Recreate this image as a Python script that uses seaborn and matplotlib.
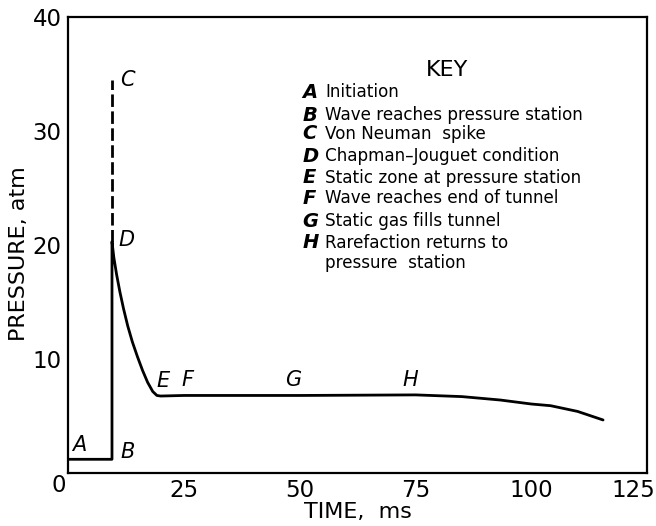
import matplotlib
matplotlib.use("Agg")
import matplotlib.pyplot as plt
import matplotlib.transforms as mtransforms
import pandas as pd
import seaborn as sns

# Pressure history at the pressure station (ms, atm)
time_ms = [0.0, 9.4, 9.4, 9.8, 10.4, 11.1, 11.9, 12.8, 13.8, 14.9, 16.0, 17.1,
           18.2, 19.1, 19.9, 25.0, 50.0, 75.0, 85.0, 93.3, 100.0, 104.2, 110.0, 115.5]
pressure_atm = [1.2, 1.2, 20.3, 18.9, 17.4, 15.9, 14.4, 12.9, 11.5, 10.2, 9.0, 7.95,
                7.15, 6.8, 6.75, 6.8, 6.8, 6.85, 6.7, 6.4, 6.05, 5.9, 5.4, 4.65]

# Von Neumann spike above the Chapman-Jouguet point
spike_time = [9.4, 9.4]
spike_pressure = [20.3, 34.5]

# Event markers along the trace
point_labels = ["A", "B", "C", "D", "E", "F", "G", "H"]
point_x = [0.75, 11.3, 11.1, 10.7, 19.1, 24.5, 46.8, 72.2]
point_y = [1.6, 0.95, 34.5, 20.4, 7.2, 7.3, 7.3, 7.3]

key_letters = ["A", "B", "C", "D", "E", "F", "G", "H", ""]
key_texts = ["Initiation",
             "Wave reaches pressure station",
             "Von Neuman  spike",
             "Chapman\u2013Jouguet condition",
             "Static zone at pressure station",
             "Wave reaches end of tunnel",
             "Static gas fills tunnel",
             "Rarefaction returns to",
             "pressure  station"]

x_ticks = [0, 25, 50, 75, 100, 125]
y_ticks = [0, 10, 20, 30, 40]

sns.set_theme(style="white")
plt.rcParams["font.family"] = ["DejaVu Sans"]

fig = plt.figure(figsize=(6.56, 5.26), dpi=100)
ax = fig.add_axes([0.1044, 0.1008, 0.9863 - 0.1044, 0.9677 - 0.1008])

trace = pd.DataFrame({"time": time_ms, "pressure": pressure_atm})
spike = pd.DataFrame({"time": spike_time, "pressure": spike_pressure})

sns.lineplot(data=trace, x="time", y="pressure", sort=False, estimator=None,
             color="black", linewidth=2.0, ax=ax)
sns.lineplot(data=spike, x="time", y="pressure", sort=False, estimator=None,
             color="black", linewidth=2.0, ax=ax)
ax.lines[-1].set_dashes((4.5, 1.6))
ax.lines[0].set_solid_joinstyle("round")

ax.set_xlim(0, 125)
ax.set_ylim(0, 40)

for side in ["left", "right", "top", "bottom"]:
    ax.spines[side].set_visible(True)
    ax.spines[side].set_color("black")
    ax.spines[side].set_linewidth(1.6)

tick_fs = 16.5
ax.set_xticks(x_ticks)
ax.set_yticks(y_ticks)
ax.set_xticklabels([""] + [str(v) for v in x_ticks[1:-1]] + [""])
ax.set_yticklabels([""] + [str(v) for v in y_ticks[1:]])
ax.tick_params(axis="both", direction="in", length=10, width=1.4, color="black",
               labelsize=tick_fs, labelcolor="black", pad=5)
ax.tick_params(axis="x", pad=4)

# shared origin label at the corner, and the last x label kept inside the figure
origin = mtransforms.offset_copy(ax.transData, fig=fig, x=-2, y=-1, units="points")
ax.text(0, 0, "0", transform=origin, ha="right", va="top", fontsize=tick_fs, color="black")
last = mtransforms.offset_copy(ax.transData, fig=fig, x=6, y=-4, units="points")
ax.text(x_ticks[-1], 0, str(x_ticks[-1]), transform=last, ha="right", va="top",
        fontsize=tick_fs, color="black")

ax.set_xlabel("TIME,  ms", fontsize=16, color="black")
ax.set_ylabel("PRESSURE, atm", fontsize=16, color="black")
ax.xaxis.set_label_coords(0.5, -0.064)
ax.yaxis.set_label_coords(-0.068, 0.48)

for lab, x, y in zip(point_labels, point_x, point_y):
    va = "center" if lab in ("C", "D") else "bottom"
    ax.text(x, y, lab, fontsize=15, style="italic", ha="left", va=va, color="black")

# key block
ax.text(81.7, 35.35, "KEY", fontsize=16, ha="center", va="center", color="black")
row_y = [33.4, 31.4, 29.75, 27.8, 25.9, 24.1, 22.1, 20.2, 18.4]
for letter, text, y in zip(key_letters, key_texts, row_y):
    if letter:
        ax.text(50.6, y, letter, fontsize=14, style="italic", fontweight="bold",
                ha="left", va="center", color="black")
    ax.text(55.4, y, text, fontsize=12.1, ha="left", va="center", color="black")

fig.savefig("out.png", dpi=100, facecolor="white")
